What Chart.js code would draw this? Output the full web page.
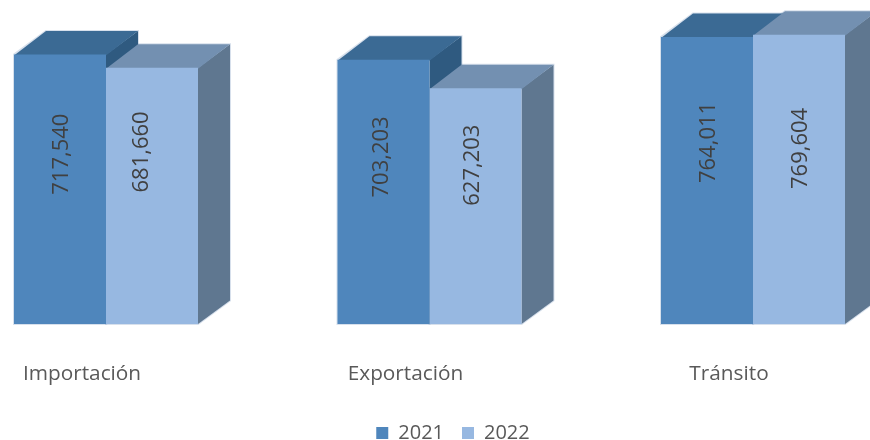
<!DOCTYPE html>
<html>
<head>
<meta charset="utf-8">
<style>
html,body{margin:0;padding:0;background:#fff;width:870px;height:440px;overflow:hidden}
canvas{position:absolute;left:-60px;top:0}
</style>
<script src="https://cdn.jsdelivr.net/npm/chart.js@4"></script>
</head>
<body>
<canvas id="c" width="1024" height="453"></canvas>
<script>
const categories = ['Importación', 'Exportación', 'Tránsito'];
const values2021 = [717540, 703203, 764011];
const values2022 = [681660, 627203, 769604];
const labelNudgeX = [[2, -2, 2], [-10, -3, 2]];
const labelNudgeY = [[-35, -35, -38], [-44, -41, -31]];
const FONT = '"Open Sans", sans-serif';
const depthX = 32, depthY = 23.5;
const faces = [
  {top: '#3b6a94', side: '#2f5a80'},
  {top: '#7390b1', side: '#5f7790'}
];
function poly(ctx, pts, color) {
  ctx.fillStyle = color;
  ctx.beginPath();
  pts.forEach((p, i) => i ? ctx.lineTo(p[0], p[1]) : ctx.moveTo(p[0], p[1]));
  ctx.closePath();
  ctx.fill();
}
const box3d = {
  id: 'box3d',
  afterLayout(chart) {
    chart.legend.left += 23.5;
    chart.legend.right += 23.5;
  },
  beforeDatasetsDraw(chart) {
    const ctx = chart.ctx;
    ctx.save();
    chart.data.datasets.forEach((ds, di) => {
      chart.getDatasetMeta(di).data.forEach(b => {
        const l = b.x - b.width / 2, r = b.x + b.width / 2, t = b.y, bt = b.base;
        ctx.strokeStyle = 'rgba(140,165,200,0.35)';
        ctx.lineWidth = 2;
        ctx.beginPath();
        ctx.moveTo(l, bt);
        ctx.lineTo(l, t);
        ctx.lineTo(l + depthX, t - depthY);
        ctx.lineTo(r + depthX, t - depthY);
        ctx.lineTo(r + depthX, bt - depthY);
        ctx.lineTo(r, bt);
        ctx.closePath();
        ctx.stroke();
      });
    });
    chart.data.datasets.forEach((ds, di) => {
      const f = faces[di];
      chart.getDatasetMeta(di).data.forEach(b => {
        const l = b.x - b.width / 2, r = b.x + b.width / 2, t = b.y, bt = b.base;
        poly(ctx, [[r, t], [r + depthX, t - depthY], [r + depthX, bt - depthY], [r, bt]], f.side);
        poly(ctx, [[l, t + 1], [l + depthX, t - depthY], [r + depthX, t - depthY], [r, t + 1]], f.top);
      });
    });
    ctx.restore();
  },
  afterDatasetsDraw(chart) {
    const ctx = chart.ctx;
    ctx.save();
    ctx.fillStyle = '#404040';
    ctx.font = '22px ' + FONT;
    ctx.textAlign = 'center';
    ctx.textBaseline = 'middle';
    chart.data.datasets.forEach((ds, di) => {
      chart.getDatasetMeta(di).data.forEach((b, i) => {
        ctx.save();
        ctx.translate(b.x + labelNudgeX[di][i], (b.y + b.base) / 2 + labelNudgeY[di][i]);
        ctx.rotate(-Math.PI / 2);
        ctx.fillText(ds.data[i].toLocaleString('en-US'), 0, 0);
        ctx.restore();
      });
    });
    ctx.restore();
  }
};
new Chart(document.getElementById('c'), {
  type: 'bar',
  data: {
    labels: categories,
    datasets: [
      {label: '2021', data: values2021, backgroundColor: '#4f86bc', borderWidth: 0},
      {label: '2022', data: values2022, backgroundColor: '#97b8e1', borderWidth: 0}
    ]
  },
  options: {
    responsive: false,
    animation: false,
    layout: {padding: {left: 4.25, right: 49.25, top: 23.4, bottom: 0}},
    datasets: {bar: {categoryPercentage: 0.5688, barPercentage: 1}},
    plugins: {
      tooltip: {enabled: false},
      legend: {
        position: 'bottom',
        labels: {boxWidth: 12, boxHeight: 12, color: '#595959', padding: 18, font: {family: FONT, size: 20}}
      }
    },
    scales: {
      y: {display: false, min: 0, max: 800000},
      x: {
        grid: {display: false},
        border: {display: false},
        afterFit(s) { s.height = 81; },
        ticks: {color: '#595959', padding: 30, labelOffset: -24, maxRotation: 0, font: {family: FONT, size: 20.8}}
      }
    }
  },
  plugins: [box3d]
});
</script>
</body>
</html>
